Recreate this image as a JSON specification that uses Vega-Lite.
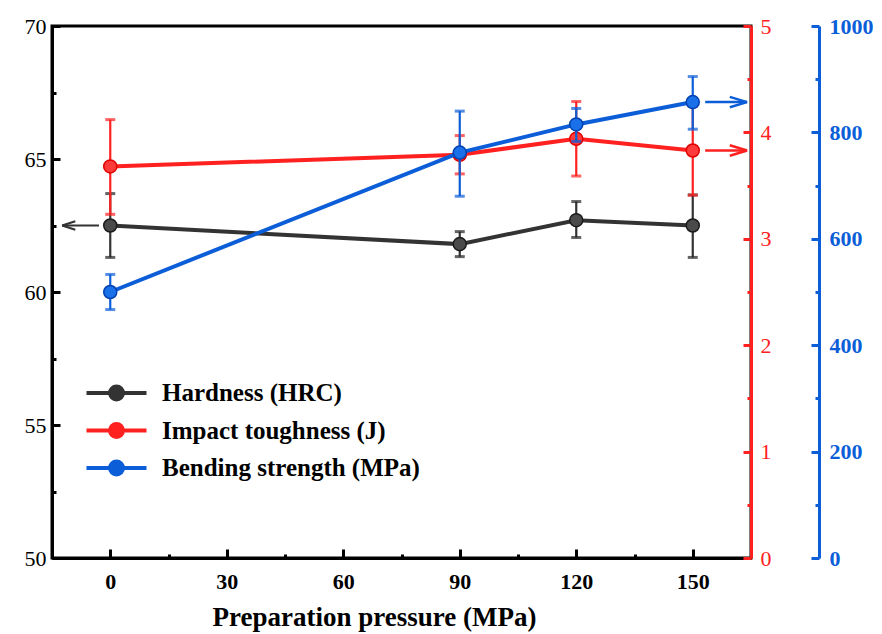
{
  "$schema": "https://vega.github.io/schema/vega-lite/v6.json",
  "width": 699,
  "height": 532,
  "autosize": {"type": "none"},
  "padding": {"left": 52, "top": 26, "right": 131, "bottom": 76},
  "background": "white",
  "config": {
    "view": {"stroke": "black", "strokeWidth": 3},
    "font": "Liberation Serif",
    "axis": {"grid": false, "labelFont": "Liberation Serif", "titleFont": "Liberation Serif"}
  },
  "datasets": {
    "hardness": [
      {"series": "Hardness (HRC)", "pressure": 0, "value": 62.5, "lo": 61.3, "hi": 63.7},
      {"series": "Hardness (HRC)", "pressure": 90, "value": 61.8, "lo": 61.33, "hi": 62.27},
      {"series": "Hardness (HRC)", "pressure": 120, "value": 62.7, "lo": 62.05, "hi": 63.4},
      {"series": "Hardness (HRC)", "pressure": 150, "value": 62.5, "lo": 61.3, "hi": 63.65}
    ],
    "impact": [
      {"series": "Impact toughness (J)", "pressure": 0, "value": 3.68, "lo": 3.23, "hi": 4.12},
      {"series": "Impact toughness (J)", "pressure": 90, "value": 3.79, "lo": 3.61, "hi": 3.97},
      {"series": "Impact toughness (J)", "pressure": 120, "value": 3.94, "lo": 3.59, "hi": 4.29},
      {"series": "Impact toughness (J)", "pressure": 150, "value": 3.83, "lo": 3.41, "hi": 4.25}
    ],
    "bending": [
      {"series": "Bending strength (MPa)", "pressure": 0, "value": 500, "lo": 467, "hi": 533},
      {"series": "Bending strength (MPa)", "pressure": 90, "value": 762, "lo": 680, "hi": 840},
      {"series": "Bending strength (MPa)", "pressure": 120, "value": 815, "lo": 783, "hi": 845},
      {"series": "Bending strength (MPa)", "pressure": 150, "value": 857, "lo": 806, "hi": 905}
    ],
    "arrowH": [{"from": -2.9, "to": -12.4, "level": 62.5}],
    "arrowI": [{"from": 153.2, "to": 164, "level": 3.83}],
    "arrowB": [{"from": 153.2, "to": 164, "level": 857}]
  },
  "layer": [
    {
      "data": {"name": "hardness"},
      "encoding": {
        "x": {
          "field": "pressure", "type": "quantitative",
          "scale": {"domain": [-15, 165], "nice": false, "zero": false},
          "axis": {
            "values": [0, 15, 30, 45, 60, 75, 90, 105, 120, 135, 150],
            "labelExpr": "datum.value % 30 === 0 ? datum.label : ''",
            "tickSize": {"condition": {"test": "datum.value % 30 === 0", "value": -9}, "value": -4},
            "tickWidth": 3, "tickColor": "black", "domainColor": "black", "domainWidth": 3,
            "labelFont": "Liberation Serif", "labelFontWeight": "bold", "labelFontSize": 22, "labelColor": "black", "labelPadding": 22,
            "title": "Preparation pressure (MPa)", "titleFont": "Liberation Serif", "titleFontSize": 27, "titleFontWeight": "bold",
            "titleColor": "black", "titlePadding": 12, "titleX": 322, "titleAlign": "center"
          }
        },
        "y": {
          "field": "value", "type": "quantitative",
          "scale": {"domain": [50, 70], "nice": false, "zero": false},
          "axis": {
            "orient": "left", "title": null,
            "values": [50, 52.5, 55, 57.5, 60, 62.5, 65, 67.5, 70],
            "labelExpr": "datum.value % 5 === 0 ? datum.label : ''",
            "tickSize": {"condition": {"test": "datum.value % 5 === 0", "value": -8}, "value": -4},
            "tickWidth": 3, "tickColor": "black", "domainColor": "black", "domainWidth": 3,
            "labelFont": "Liberation Serif", "labelFontSize": 22, "labelColor": "black", "labelPadding": 14
          }
        }
      },
      "layer": [
        {"mark": {"type": "rule", "color": "#333333", "strokeWidth": 2.2}, "encoding": {"y": {"field": "lo", "type": "quantitative"}, "y2": {"field": "hi"}}},
        {"mark": {"type": "tick", "orient": "horizontal", "color": "#222222", "size": 10, "thickness": 3}, "encoding": {"y": {"field": "lo", "type": "quantitative"}}},
        {"mark": {"type": "tick", "orient": "horizontal", "color": "#222222", "size": 10, "thickness": 3}, "encoding": {"y": {"field": "hi", "type": "quantitative"}}},
        {
          "mark": {"type": "line", "strokeWidth": 4},
          "encoding": {
            "color": {
              "field": "series", "type": "nominal",
              "scale": {"domain": ["Hardness (HRC)", "Impact toughness (J)", "Bending strength (MPa)"], "range": ["#333333", "#ff2020", "#0b5ed7"]},
              "legend": {
                "orient": "none", "legendX": 47.5, "legendY": 350, "title": null, "padding": 0,
                "symbolType": "M-2,0H2M-0.43,0A0.43,0.43,0,1,0,0.43,0A0.43,0.43,0,1,0,-0.43,0Z",
                "symbolSize": 900, "symbolStrokeWidth": 4,
                "labelFont": "Liberation Serif", "labelFontWeight": "bold", "labelFontSize": 25,
                "labelColor": "black", "labelOffset": 28.5, "labelLimit": 400, "rowPadding": 5.5,
                "encode": {"symbols": {"update": {"fill": {"scale": "color", "field": "value"}, "fillOpacity": {"value": 1}}}}
              }
            }
          }
        },
        {"mark": {"type": "point", "filled": true, "size": 170, "color": "#4a4a4a", "stroke": "#1a1a1a", "strokeWidth": 1.5, "opacity": 1}},
        {
          "data": {"name": "arrowH"},
          "mark": {"type": "rule", "color": "#333333", "strokeWidth": 2.2},
          "encoding": {"x": {"field": "from", "type": "quantitative"}, "x2": {"field": "to"}, "y": {"field": "level", "type": "quantitative"}}
        },
        {
          "data": {"name": "arrowH"},
          "mark": {"type": "point", "shape": "M0,0L1,-0.32M0,0L1,0.32", "filled": false, "size": 700, "stroke": "#333333", "strokeWidth": 2.2, "opacity": 1},
          "encoding": {"x": {"field": "to", "type": "quantitative"}, "y": {"field": "level", "type": "quantitative"}}
        }
      ]
    },
    {
      "data": {"name": "impact"},
      "encoding": {
        "x": {"field": "pressure", "type": "quantitative", "scale": {"domain": [-15, 165], "nice": false, "zero": false}},
        "y": {
          "field": "value", "type": "quantitative",
          "scale": {"domain": [0, 5], "nice": false, "zero": false},
          "axis": {
            "orient": "right", "title": null,
            "values": [0, 0.5, 1, 1.5, 2, 2.5, 3, 3.5, 4, 4.5, 5],
            "labelExpr": "datum.value % 1 === 0 ? format(datum.value, 'd') : ''",
            "tickSize": {"condition": {"test": "datum.value % 1 === 0", "value": -8}, "value": -4},
            "tickWidth": 3, "tickColor": "#ff2020", "domainColor": "#ff2020", "domainWidth": 3,
            "labelFont": "Liberation Serif", "labelFontSize": 22, "labelColor": "#ff2020", "labelPadding": 17
          }
        }
      },
      "layer": [
        {"mark": {"type": "rule", "color": "#ff2020", "strokeWidth": 2.2}, "encoding": {"y": {"field": "lo", "type": "quantitative"}, "y2": {"field": "hi"}}},
        {"mark": {"type": "tick", "orient": "horizontal", "color": "#ff2020", "size": 10, "thickness": 3}, "encoding": {"y": {"field": "lo", "type": "quantitative"}}},
        {"mark": {"type": "tick", "orient": "horizontal", "color": "#ff2020", "size": 10, "thickness": 3}, "encoding": {"y": {"field": "hi", "type": "quantitative"}}},
        {"mark": {"type": "line", "strokeWidth": 4}, "encoding": {"color": {"field": "series", "type": "nominal"}}},
        {"mark": {"type": "point", "filled": true, "size": 170, "color": "#ff3a3a", "stroke": "#e00000", "strokeWidth": 1.5, "opacity": 1}},
        {
          "data": {"name": "arrowI"},
          "mark": {"type": "rule", "color": "#ff2020", "strokeWidth": 2.5},
          "encoding": {"x": {"field": "from", "type": "quantitative"}, "x2": {"field": "to"}, "y": {"field": "level", "type": "quantitative"}}
        },
        {
          "data": {"name": "arrowI"},
          "mark": {"type": "point", "shape": "M0,0L-1,-0.3M0,0L-1,0.3", "filled": false, "size": 1200, "stroke": "#ff2020", "strokeWidth": 2.5, "opacity": 1},
          "encoding": {"x": {"field": "to", "type": "quantitative"}, "y": {"field": "level", "type": "quantitative"}}
        }
      ]
    },
    {
      "data": {"name": "bending"},
      "encoding": {
        "x": {"field": "pressure", "type": "quantitative", "scale": {"domain": [-15, 165], "nice": false, "zero": false}},
        "y": {
          "field": "value", "type": "quantitative",
          "scale": {"domain": [0, 1000], "nice": false, "zero": false},
          "axis": {
            "orient": "right", "offset": 68, "title": null,
            "values": [0, 100, 200, 300, 400, 500, 600, 700, 800, 900, 1000],
            "labelExpr": "datum.value % 200 === 0 ? format(datum.value, 'd') : ''",
            "tickSize": {"condition": {"test": "datum.value % 200 === 0", "value": -8}, "value": -4},
            "tickWidth": 3, "tickColor": "#0b5ed7", "domainColor": "#0b5ed7", "domainWidth": 3,
            "labelFont": "Liberation Serif", "labelFontSize": 22, "labelFontWeight": "bold", "labelColor": "#0b5ed7", "labelPadding": 18
          }
        }
      },
      "layer": [
        {"mark": {"type": "rule", "color": "#0b5ed7", "strokeWidth": 2.2}, "encoding": {"y": {"field": "lo", "type": "quantitative"}, "y2": {"field": "hi"}}},
        {"mark": {"type": "tick", "orient": "horizontal", "color": "#0b5ed7", "size": 10, "thickness": 3}, "encoding": {"y": {"field": "lo", "type": "quantitative"}}},
        {"mark": {"type": "tick", "orient": "horizontal", "color": "#0b5ed7", "size": 10, "thickness": 3}, "encoding": {"y": {"field": "hi", "type": "quantitative"}}},
        {"mark": {"type": "line", "strokeWidth": 4}, "encoding": {"color": {"field": "series", "type": "nominal"}}},
        {"mark": {"type": "point", "filled": true, "size": 170, "color": "#1a70e8", "stroke": "#0040b0", "strokeWidth": 1.5, "opacity": 1}},
        {
          "data": {"name": "arrowB"},
          "mark": {"type": "rule", "color": "#0b5ed7", "strokeWidth": 2.5},
          "encoding": {"x": {"field": "from", "type": "quantitative"}, "x2": {"field": "to"}, "y": {"field": "level", "type": "quantitative"}}
        },
        {
          "data": {"name": "arrowB"},
          "mark": {"type": "point", "shape": "M0,0L-1,-0.3M0,0L-1,0.3", "filled": false, "size": 1200, "stroke": "#0b5ed7", "strokeWidth": 2.5, "opacity": 1},
          "encoding": {"x": {"field": "to", "type": "quantitative"}, "y": {"field": "level", "type": "quantitative"}}
        }
      ]
    }
  ],
  "resolve": {"scale": {"y": "independent"}, "axis": {"y": "independent"}}
}
